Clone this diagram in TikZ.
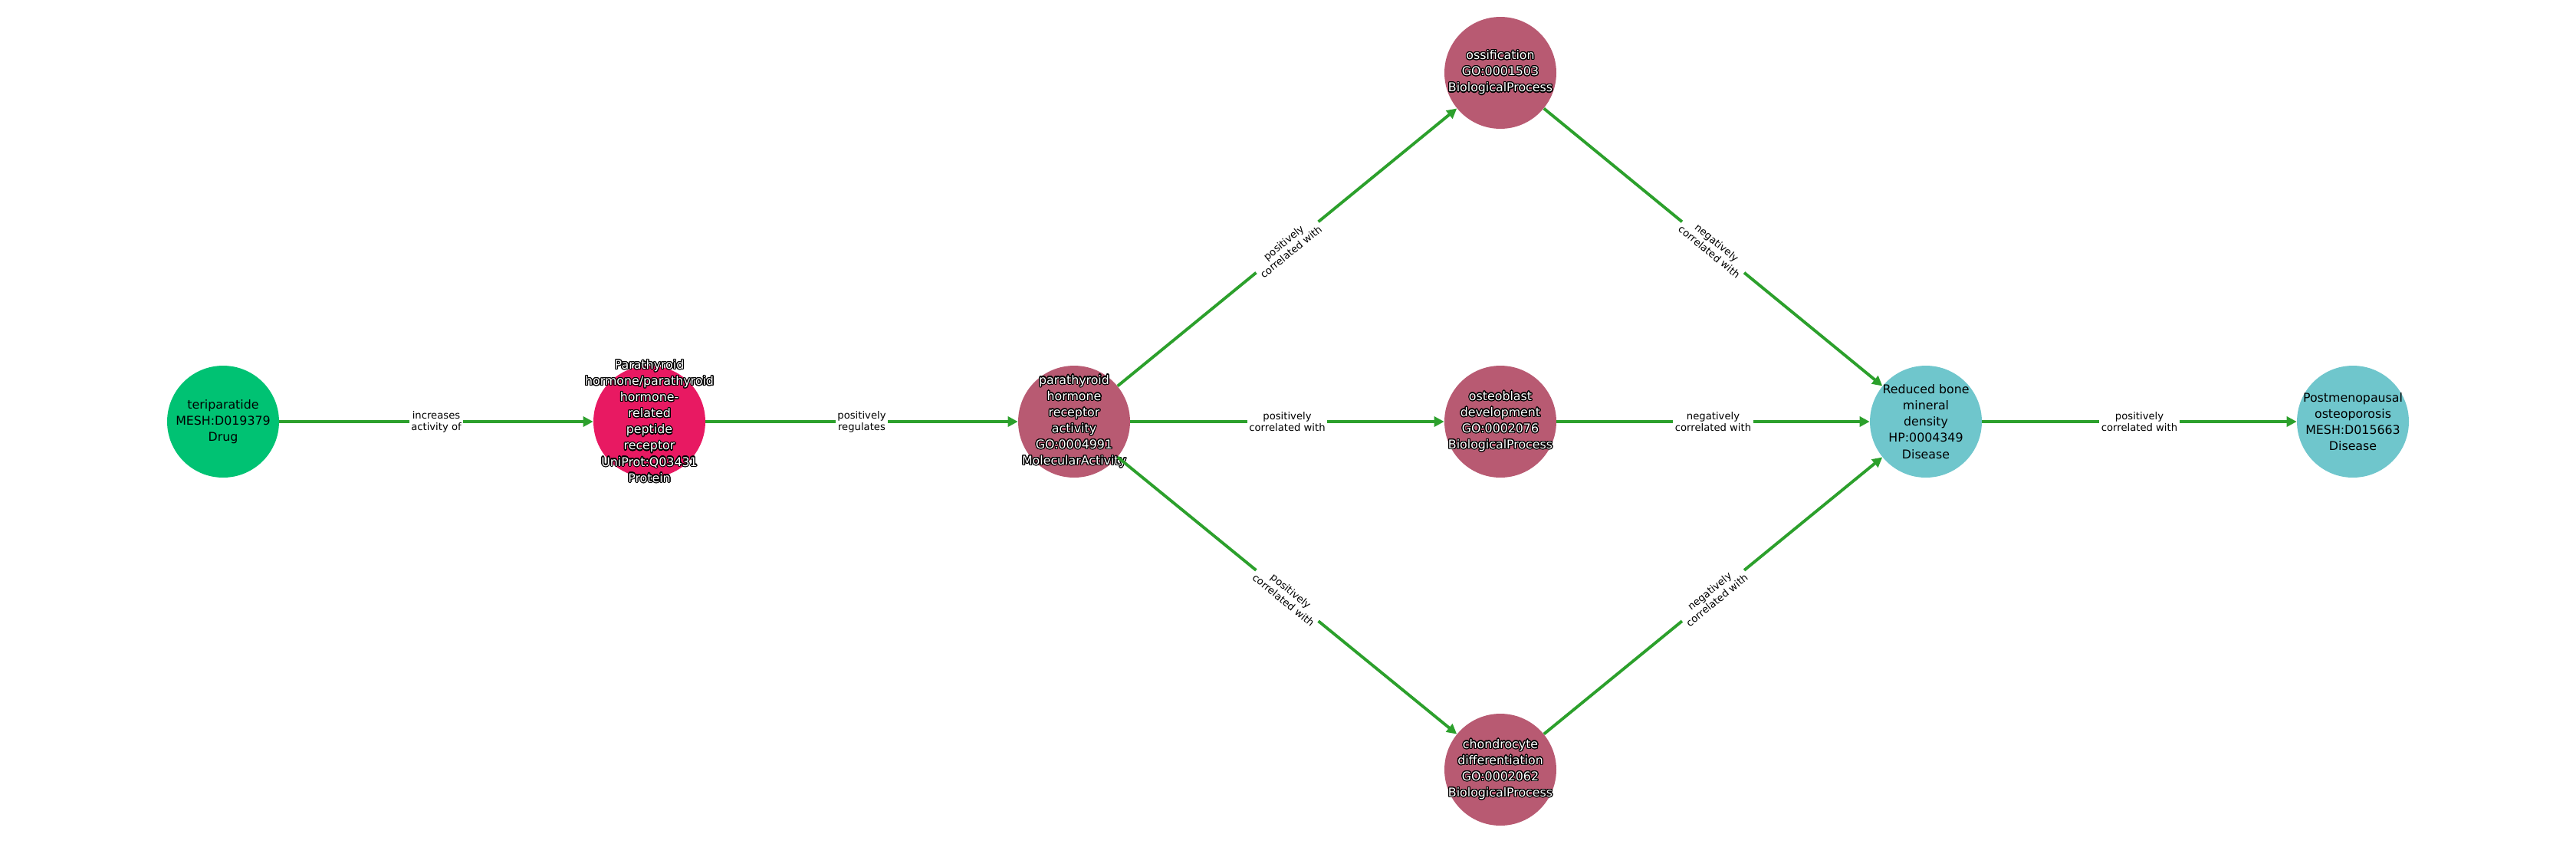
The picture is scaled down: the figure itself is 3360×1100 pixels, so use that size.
\documentclass[tikz,border=0pt]{standalone}
\usepackage{fontspec}
\setmainfont{DejaVu Sans}
\usepackage{xcolor}
\usepackage{contour}
\usetikzlibrary{arrows.meta}

\definecolor{drugcol}{RGB}{0,194,115}
\definecolor{protcol}{RGB}{232,25,98}
\definecolor{gocol}{RGB}{184,90,114}
\definecolor{discol}{RGB}{111,198,204}
\definecolor{relcol}{RGB}{44,160,44}

\contourlength{0.7pt}
\newcommand{\outl}[1]{\contour{black}{#1}}

\tikzset{
  ent/.style={circle, minimum size=2.92cm, inner sep=0pt},
  etxt/.style={inner sep=0pt, align=center, font=\fontsize{9}{12}\selectfont},
  wtxt/.style={etxt, text=white},
  rel/.style={draw=relcol, line width=2.2pt,
    -{Triangle[length=0.26cm,width=0.26cm]}},
  lab/.style={fill=white, inner sep=1.5pt, align=center, text=black,
    font=\fontsize{7.5}{8.7}\selectfont}
}

\begin{document}
\begin{tikzpicture}[x=0.02cm, y=-0.02cm]
            \useasboundingbox (0,0) rectangle (3360,1100);
            % entities
            \node[ent, fill=drugcol, label={[etxt]center:{teriparatide\\MESH:D019379\\Drug}}] (teri) at (291,550) {};
            \node[ent, fill=protcol, label={[wtxt]center:{\outl{Parathyroid}\\\outl{hormone/parathyroid}\\\outl{hormone-}\\\outl{related}\\\outl{peptide}\\\outl{receptor}\\\outl{UniProt:Q03431}\\\outl{Protein}}}] (pthr) at (847,550) {};
            \node[ent, fill=gocol, label={[wtxt]center:{\outl{parathyroid}\\\outl{hormone}\\\outl{receptor}\\\outl{activity}\\\outl{GO:0004991}\\\outl{MolecularActivity}}}] (pthact) at (1401,550) {};
            \node[ent, fill=gocol, label={[wtxt]center:{\outl{ossification}\\\outl{GO:0001503}\\\outl{BiologicalProcess}}}] (ossif) at (1957,95) {};
            \node[ent, fill=gocol, label={[wtxt]center:{\outl{osteoblast}\\\outl{development}\\\outl{GO:0002076}\\\outl{BiologicalProcess}}}] (osteo) at (1957,550) {};
            \node[ent, fill=gocol, label={[wtxt]center:{\outl{chondrocyte}\\\outl{differentiation}\\\outl{GO:0002062}\\\outl{BiologicalProcess}}}] (chond) at (1957,1004) {};
            \node[ent, fill=discol, label={[etxt]center:{Reduced bone\\mineral\\density\\HP:0004349\\Disease}}] (bmd) at (2512,550) {};
            \node[ent, fill=discol, label={[etxt]center:{Postmenopausal\\osteoporosis\\MESH:D015663\\Disease}}] (pmo) at (3069,550) {};
            % relations
            \draw[rel] (teri) -- node[lab] {increases\\activity of} (pthr);
            \draw[rel] (pthr) -- node[lab] {positively\\regulates} (pthact);
            \draw[rel] (pthact) -- node[lab, sloped] {positively\\correlated with} (ossif);
            \draw[rel] (pthact) -- node[lab] {positively\\correlated with} (osteo);
            \draw[rel] (pthact) -- node[lab, sloped] {positively\\correlated with} (chond);
            \draw[rel] (ossif) -- node[lab, sloped] {negatively\\correlated with} (bmd);
            \draw[rel] (osteo) -- node[lab] {negatively\\correlated with} (bmd);
            \draw[rel] (chond) -- node[lab, sloped] {negatively\\correlated with} (bmd);
            \draw[rel] (bmd) -- node[lab] {positively\\correlated with} (pmo);
\end{tikzpicture}
\end{document}
